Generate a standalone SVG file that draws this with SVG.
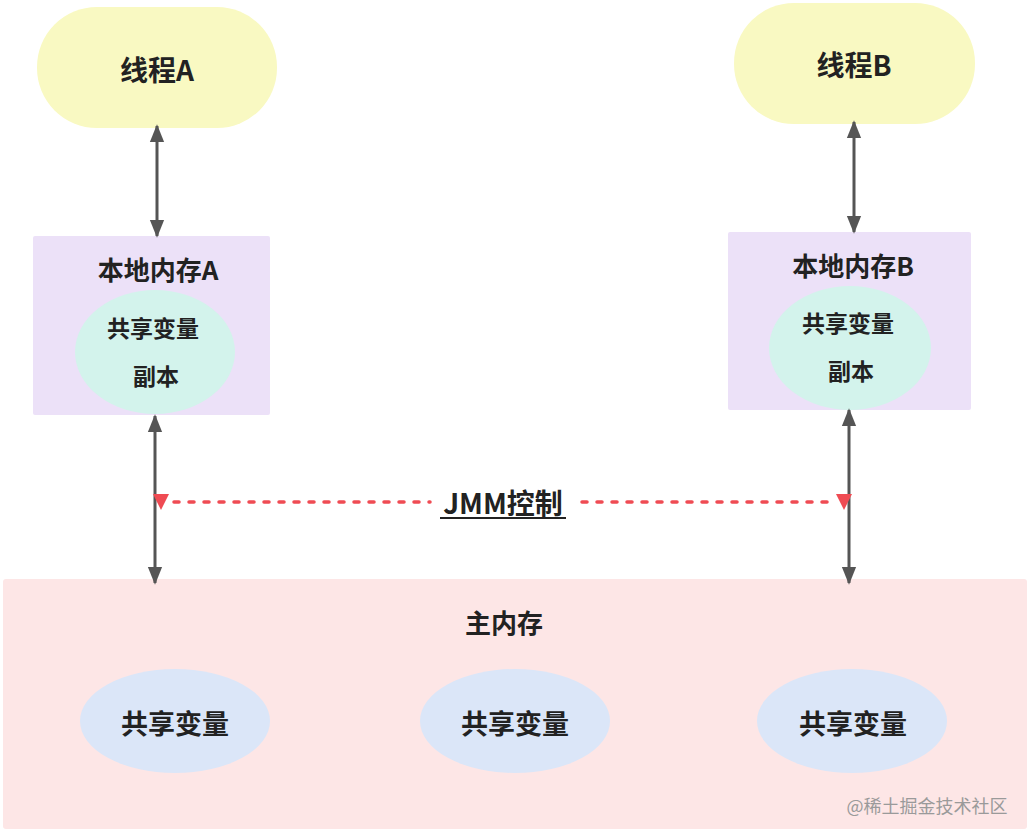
<svg xmlns="http://www.w3.org/2000/svg" width="1030" height="839" viewBox="0 0 1030 839">
<style>
text{font-family:"Noto Sans CJK SC","Liberation Sans",sans-serif;font-weight:bold;fill:#222;text-anchor:middle;dominant-baseline:central}
.thread{fill:#f9f9c2}
.local{fill:#ece1f8}
.copy{fill:#d3f3ec}
.main{fill:#fde6e6}
.var{fill:#dbe6f8}
.conn{stroke:#555;stroke-width:3;fill:none}
.jmm{stroke:#ef4b53;stroke-width:3.5;fill:none;stroke-dasharray:5 10;stroke-linecap:round}
</style>
<defs>
<marker id="ah" viewBox="0 0 10 10" refX="9" refY="5" markerWidth="6" markerHeight="6" orient="auto-start-reverse" markerUnits="strokeWidth"><path d="M0,1 L10,5 L0,9 z" fill="#555"/></marker>
</defs>
<rect width="1030" height="839" fill="#fff"/>
<g id="main-memory">
<rect class="main" x="3" y="579" width="1024" height="250" rx="3"/>
<text x="504" y="621" font-size="26">主内存</text>
</g>
<g id="var1"><ellipse class="var" cx="175" cy="721" rx="95" ry="52"/><text x="175" y="722" font-size="27">共享变量</text></g>
<g id="var2"><ellipse class="var" cx="515" cy="721" rx="95" ry="52"/><text x="515" y="722" font-size="27">共享变量</text></g>
<g id="var3"><ellipse class="var" cx="852" cy="721" rx="95" ry="52"/><text x="853" y="722" font-size="27">共享变量</text></g>
<g id="thread-a"><rect class="thread" x="37" y="7" width="240" height="121" rx="60"/><text x="157" y="69" font-size="28">线程A</text></g>
<g id="thread-b"><rect class="thread" x="734" y="3" width="241" height="121" rx="60"/><text x="854" y="64" font-size="28">线程B</text></g>
<g id="local-a">
<rect class="local" x="33" y="236" width="237" height="179" rx="2"/>
<text x="158" y="268" font-size="26">本地内存A</text>
<ellipse class="copy" cx="155" cy="352" rx="80" ry="62"/>
<text x="153" y="327" font-size="23">共享变量</text>
<text x="156" y="375" font-size="23">副本</text>
</g>
<g id="local-b">
<rect class="local" x="728" y="232" width="243" height="178" rx="2"/>
<text x="853" y="264" font-size="26">本地内存B</text>
<ellipse class="copy" cx="850" cy="348" rx="81" ry="62"/>
<text x="848" y="322" font-size="23">共享变量</text>
<text x="851" y="370" font-size="23">副本</text>
</g>
<g id="connectors">
<line class="conn" x1="157" y1="126" x2="157" y2="236" marker-start="url(#ah)" marker-end="url(#ah)"/>
<line class="conn" x1="854" y1="122" x2="854" y2="232" marker-start="url(#ah)" marker-end="url(#ah)"/>
<line class="conn" x1="155" y1="416" x2="155" y2="583" marker-start="url(#ah)" marker-end="url(#ah)"/>
<line class="conn" x1="849" y1="410" x2="849" y2="583" marker-start="url(#ah)" marker-end="url(#ah)"/>
<line class="jmm" x1="174" y1="502" x2="430" y2="502"/>
<line class="jmm" x1="582" y1="502" x2="834" y2="502"/>
<path d="M153,494 L169,494 L161,510 z" fill="#ef4b53"/>
<path d="M836,494 L852,494 L844,510 z" fill="#ef4b53"/>
<text x="503" y="502" font-size="28">JMM控制</text>
<line x1="440" y1="518" x2="566" y2="518" stroke="#222" stroke-width="2"/>
</g>
<text x="927" y="805" font-size="18" style="font-weight:normal;fill:#9a9a9a">@稀土掘金技术社区</text>
</svg>
